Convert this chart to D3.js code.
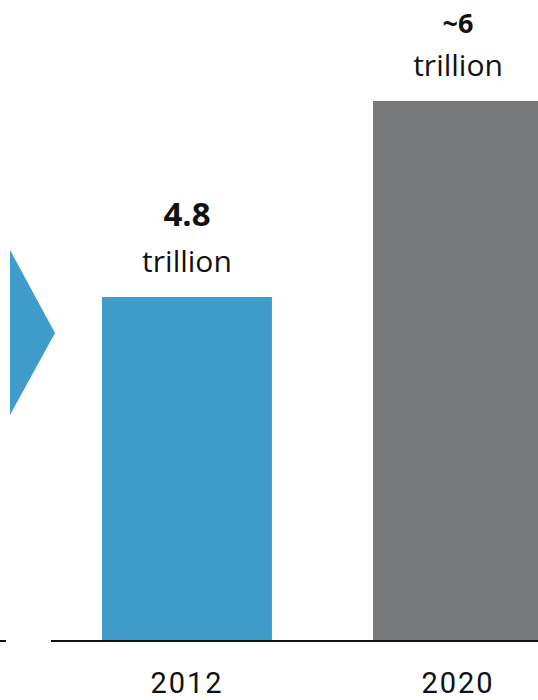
<!DOCTYPE html>
<html>
<head>
<meta charset="utf-8">
<script src="https://cdn.jsdelivr.net/npm/d3@7"></script>
<style>
  html, body { margin: 0; padding: 0; background: #fff; }
  svg { display: block; }
</style>
</head>
<body>
<div id="chart"></div>
<script>
const categories = ["2012", "2020"];
const values = [4.8, 6];
const valueLabels = ["4.8", "~6"];
const unitLabels = ["trillion", "trillion"];
const barColors = ["#409cca", "#77787a"];

const W = 538, H = 700;
const svg = d3.select("#chart").append("svg").attr("width", W).attr("height", H);

const baseY = 640;
const x = d3.scaleBand().domain(categories).range([102, 543]).paddingInner(0.373).paddingOuter(0);
const y = d3.scaleLinear().domain([2.7, 6]).range([baseY, 101]);

// arrow from previous panel
svg.append("path")
  .attr("d", d3.line()([[10, 250], [55, 333], [10, 415]]) + "Z")
  .attr("fill", "#409cca");

// bars
svg.selectAll("rect.bar").data(categories).join("rect")
  .attr("class", "bar")
  .attr("x", d => x(d))
  .attr("width", x.bandwidth())
  .attr("y", (d, i) => y(values[i]))
  .attr("height", (d, i) => baseY - y(values[i]))
  .attr("fill", (d, i) => barColors[i]);

// baseline
svg.append("line").attr("x1", 0).attr("x2", 6).attr("y1", baseY + 1).attr("y2", baseY + 1)
  .attr("stroke", "#111").attr("stroke-width", 2);
svg.append("line").attr("x1", 51).attr("x2", W).attr("y1", baseY + 1).attr("y2", baseY + 1)
  .attr("stroke", "#111").attr("stroke-width", 2);

// value labels
svg.selectAll("text.val").data(categories).join("text")
  .attr("class", "val")
  .attr("x", d => x(d) + x.bandwidth() / 2)
  .attr("y", (d, i) => y(values[i]) - (i === 0 ? 71 : 68))
  .attr("text-anchor", "middle")
  .attr("font-family", "'Open Sans', sans-serif")
  .attr("font-weight", "bold")
  .attr("font-size", (d, i) => i === 0 ? 33 : 27)
  .attr("fill", "#111")
  .text((d, i) => valueLabels[i]);

svg.selectAll("text.unit").data(categories).join("text")
  .attr("class", "unit")
  .attr("x", d => x(d) + x.bandwidth() / 2)
  .attr("y", (d, i) => y(values[i]) - 25)
  .attr("text-anchor", "middle")
  .attr("font-family", "'Open Sans', sans-serif")
  .attr("font-size", 30)
  .attr("fill", "#111")
  .text((d, i) => unitLabels[i]);

// axis labels
const axis = d3.axisBottom(x).tickSize(0).tickPadding(0);
const gx = svg.append("g").attr("transform", `translate(0,${baseY})`).call(axis);
gx.select(".domain").remove();
gx.selectAll("text")
  .attr("y", 53)
  .attr("dy", 0)
  .attr("font-family", "Roboto, 'Liberation Sans', sans-serif")
  .attr("font-size", 29)
  .attr("letter-spacing", 2)
  .attr("fill", "#111");
</script>
</body>
</html>
